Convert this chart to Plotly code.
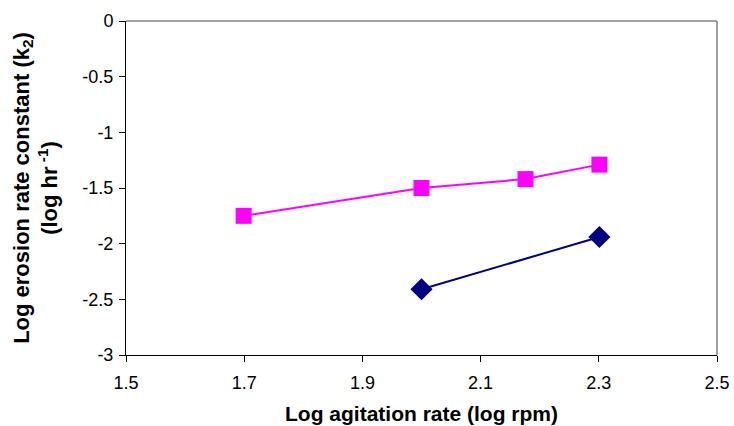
import plotly.graph_objects as go

# Data (log agitation rate vs log erosion rate constant)
x_square = [1.699, 2.0, 2.176, 2.301]
y_square = [-1.75, -1.50, -1.42, -1.29]
x_diamond = [2.0, 2.301]
y_diamond = [-2.41, -1.94]

x_ticks = [1.5, 1.7, 1.9, 2.1, 2.3, 2.5]
y_ticks = [0, -0.5, -1, -1.5, -2, -2.5, -3]

fig = go.Figure()
fig.add_trace(go.Scatter(
    x=x_square, y=y_square, mode="lines+markers",
    line=dict(color="#FF00FF", width=2),
    marker=dict(symbol="square", size=16, color="#FF00FF"),
    showlegend=False))
fig.add_trace(go.Scatter(
    x=x_diamond, y=y_diamond, mode="lines+markers",
    line=dict(color="#000080", width=2),
    marker=dict(symbol="diamond", size=17, color="#000080"),
    showlegend=False))

font_family = "Liberation Sans, Arial, sans-serif"

fig.update_layout(
    width=734, height=426,
    margin=dict(l=126, r=17, t=21, b=71, autoexpand=False),
    paper_bgcolor="white", plot_bgcolor="white",
    font=dict(family=font_family, size=18, color="black"),
    xaxis=dict(
        range=[1.5, 2.5], tickvals=x_ticks, ticktext=[str(v) for v in x_ticks],
        showgrid=False, zeroline=False, showline=True, linecolor="black", linewidth=1,
        ticks="outside", ticklen=6, tickcolor="black", ticklabelstandoff=5,
        automargin=False,
        title=dict(text="<b>Log agitation rate (log rpm)</b>",
                   font=dict(size=21), standoff=14),
    ),
    yaxis=dict(
        range=[-3, 0], tickvals=y_ticks, ticktext=[str(v) for v in y_ticks],
        showgrid=False, zeroline=False, showline=True, linecolor="black", linewidth=1,
        ticks="outside", ticklen=6, tickcolor="black", ticklabelstandoff=2,
        automargin=False,
        title=dict(text="<b>Log erosion rate constant (k<sub>2</sub>)<br>(log hr<sup> -1</sup>)</b>",
                   font=dict(size=22), standoff=18),
    ),
    shapes=[
        dict(type="line", xref="paper", yref="paper", x0=0, x1=1, y0=1, y1=1,
             line=dict(color="#808080", width=1.5)),
        dict(type="line", xref="paper", yref="paper", x0=1, x1=1, y0=0, y1=1,
             line=dict(color="#808080", width=1.5)),
    ],
)

fig.write_html("out.html")
